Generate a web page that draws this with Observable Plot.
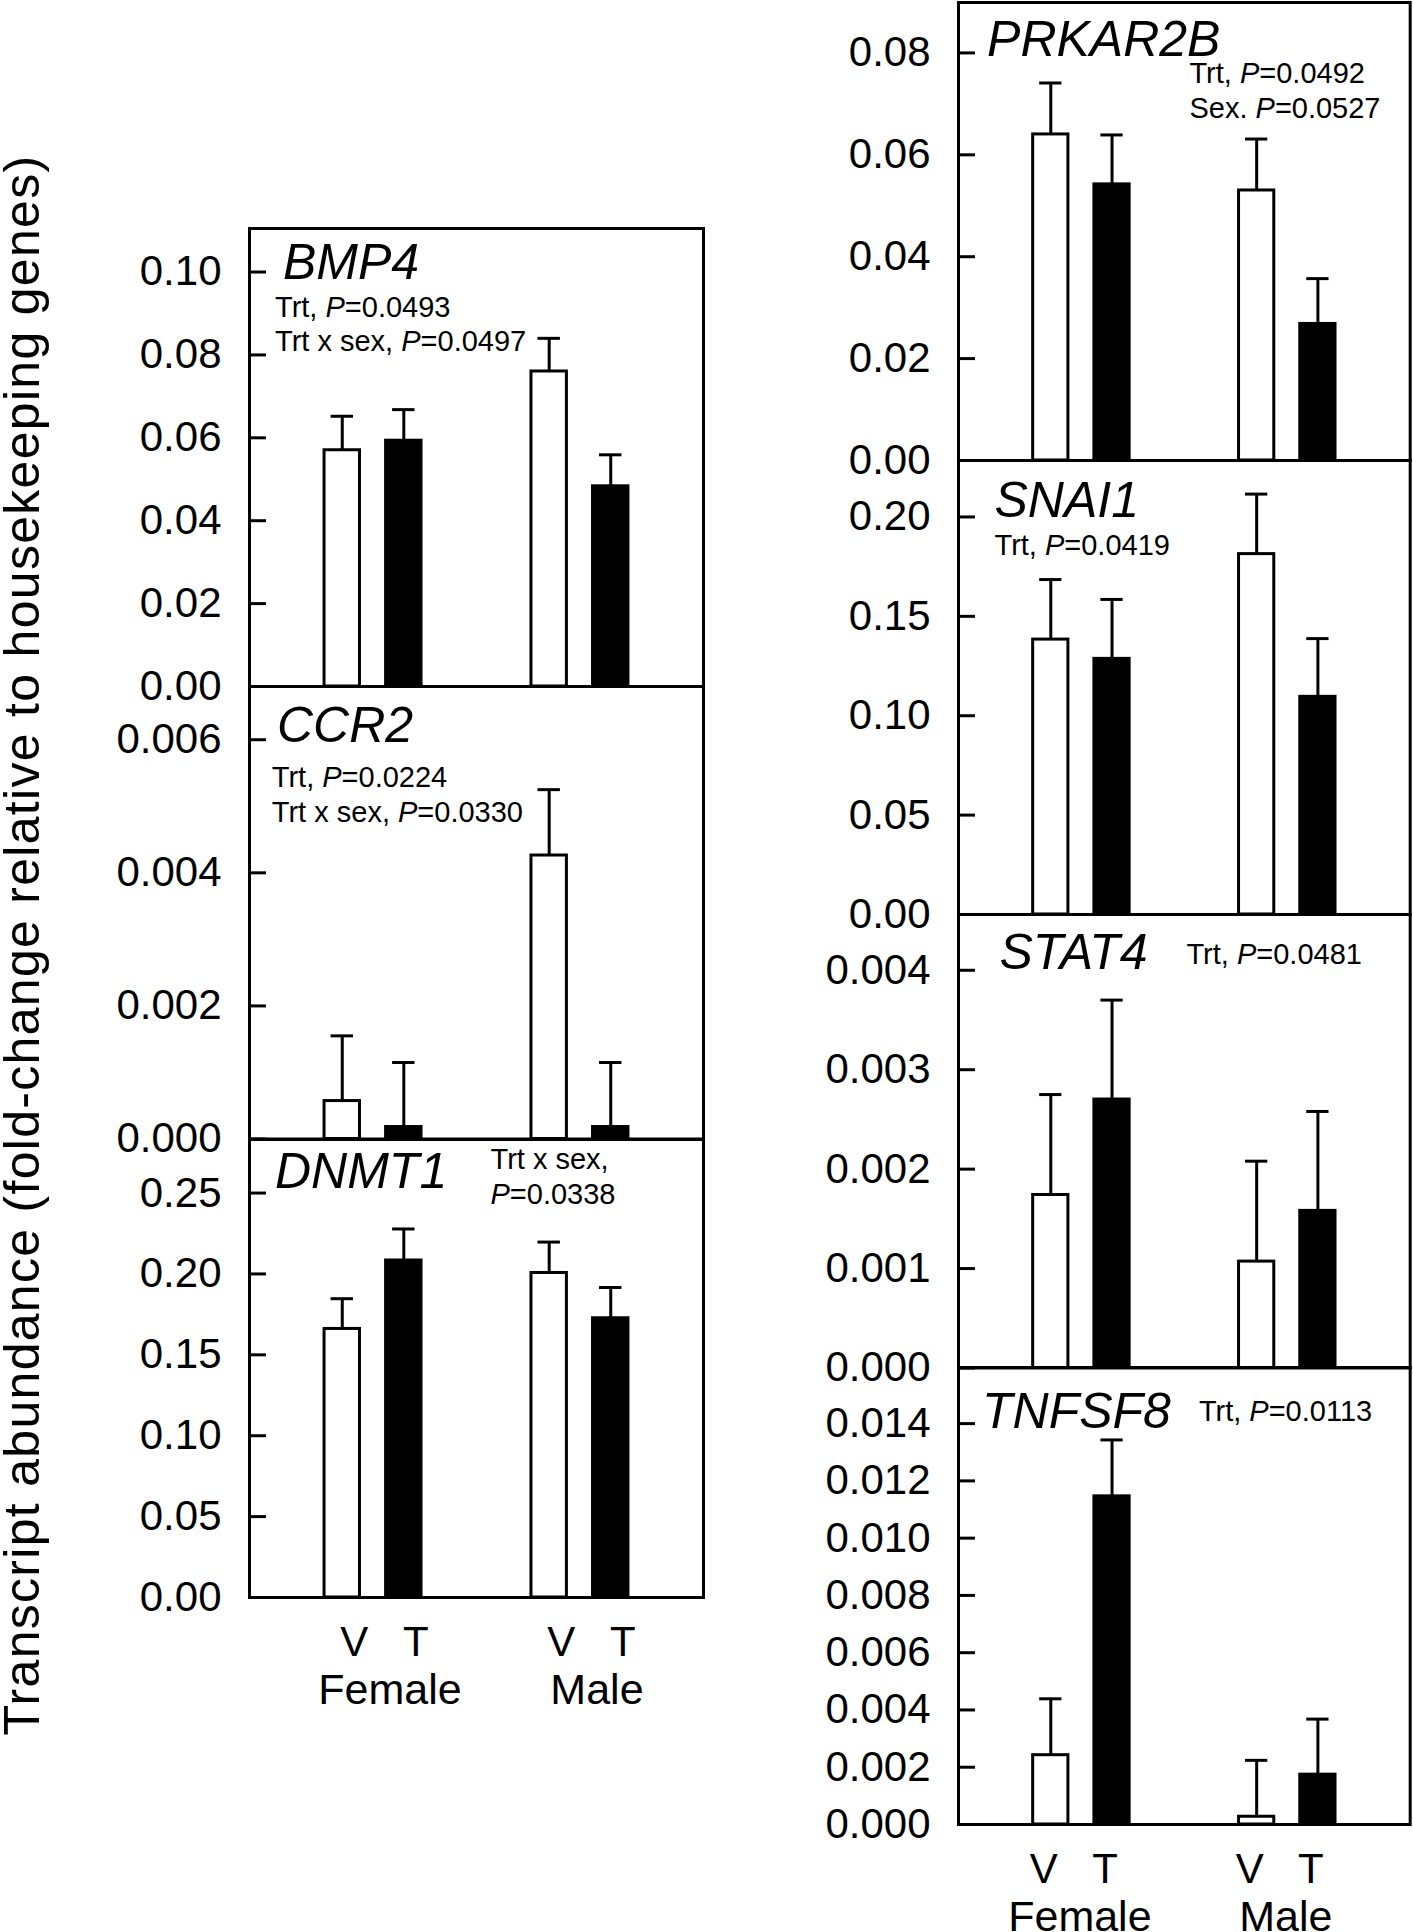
<!DOCTYPE html>
<html>
<head>
<meta charset="utf-8">
<script src="https://cdn.jsdelivr.net/npm/d3@7"></script>
<script src="https://cdn.jsdelivr.net/npm/@observablehq/plot@0.6"></script>
<style>
  html, body { margin: 0; padding: 0; background: #fff; overflow: hidden; }
  #root { position: relative; width: 1413px; height: 1932px; overflow: hidden; font-family: 'Liberation Sans', Arial, Helvetica, sans-serif; }
  .panel { position: absolute; }
  .panel svg { overflow: visible; max-width: none !important; display: block; }
</style>
</head>
<body>
<div id="root"></div>
<script>
// ---------------- DATA ----------------
const sexes = ["Female", "Male"];
const treatments = ["V", "T"];
// value order in every series: Female V, Female T, Male V, Male T
const bmp4Mean = [0.0570, 0.0593, 0.0760, 0.0483];
const bmp4SE = [0.0082, 0.0075, 0.0080, 0.0076];
const bmp4Ticks = [0, 0.02, 0.04, 0.06, 0.08, 0.10];
const bmp4Stats = ["Trt, P=0.0493", "Trt x sex, P=0.0497"];

const ccr2Mean = [0.00057, 0.00018, 0.00426, 0.00018];
const ccr2SE = [0.00098, 0.00097, 0.00099, 0.00097];
const ccr2Ticks = [0, 0.002, 0.004, 0.006];
const ccr2Stats = ["Trt, P=0.0224", "Trt x sex, P=0.0330"];

const dnmt1Mean = [0.166, 0.2083, 0.2006, 0.1726];
const dnmt1SE = [0.0187, 0.0195, 0.0191, 0.0190];
const dnmt1Ticks = [0, 0.05, 0.10, 0.15, 0.20, 0.25];
const dnmt1Stats = ["Trt x sex,", "P=0.0338"];

const prkar2bMean = [0.0640, 0.0542, 0.0530, 0.0268];
const prkar2bSE = [0.0101, 0.0097, 0.0101, 0.0089];
const prkar2bTicks = [0, 0.02, 0.04, 0.06, 0.08];
const prkar2bStats = ["Trt, P=0.0492", "Sex. P=0.0527"];

const snai1Mean = [0.1383, 0.1286, 0.1813, 0.1095];
const snai1SE = [0.0302, 0.0299, 0.0302, 0.0293];
const snai1Ticks = [0, 0.05, 0.10, 0.15, 0.20];
const snai1Stats = ["Trt, P=0.0419"];

const stat4Mean = [0.00174, 0.00270, 0.00107, 0.00158];
const stat4SE = [0.00101, 0.00100, 0.00101, 0.00100];
const stat4Ticks = [0, 0.001, 0.002, 0.003, 0.004];
const stat4Stats = ["Trt, P=0.0481"];

const tnfsf8Mean = [0.00242, 0.01146, 0.00027, 0.00174];
const tnfsf8SE = [0.00197, 0.00197, 0.00197, 0.00194];
const tnfsf8Ticks = [0, 0.002, 0.004, 0.006, 0.008, 0.010, 0.012, 0.014];
const tnfsf8Stats = ["Trt, P=0.0113"];

const yTitle = "Transcript abundance (fold-change relative to housekeeping genes)";

// ---------------- LAYOUT ----------------
const FONT = "'Liberation Sans', Arial, Helvetica, sans-serif";
const LEFT = {x0: 248.5, x1: 702.5};
const RIGHT = {x0: 958.3, x1: 1410};
const FX_PI = 0.3, FX_PO = 0.247;

const panels = [
  {gene: "BMP4", mean: bmp4Mean, se: bmp4SE, ticks: bmp4Ticks, fmt: ".2f", ymax: 0.1105, stats: bmp4Stats,
   col: LEFT, y0: 228, y1: 686, g: [33.5, 50.3], s: [25.5, 88, 34]},
  {gene: "CCR2", mean: ccr2Mean, se: ccr2SE, ticks: ccr2Ticks, fmt: ".3f", ymax: 0.0068, stats: ccr2Stats,
   col: LEFT, y0: 686, y1: 1138.5, g: [27.5, 55.7], s: [22.3, 100.7, 35]},
  {gene: "DNMT1", mean: dnmt1Mean, se: dnmt1SE, ticks: dnmt1Ticks, fmt: ".2f", ymax: 0.2831, stats: dnmt1Stats,
   col: LEFT, y0: 1138.5, y1: 1596.5, g: [25.5, 48.1], s: [241, 29.5, 35], bottom: true, axDx: 12, fxDx: 17},
  {gene: "PRKAR2B", mean: prkar2bMean, se: prkar2bSE, ticks: prkar2bTicks, fmt: ".2f", ymax: 0.0899, stats: prkar2bStats,
   col: RIGHT, y0: 1.5, y1: 459.5, g: [28.6, 53.5], s: [231, 80.8, 34.4]},
  {gene: "SNAI1", mean: snai1Mean, se: snai1SE, ticks: snai1Ticks, fmt: ".2f", ymax: 0.2284, stats: snai1Stats,
   col: RIGHT, y0: 459.5, y1: 913.5, g: [36, 56.5], s: [36, 94.8, 34]},
  {gene: "STAT4", mean: stat4Mean, se: stat4SE, ticks: stat4Ticks, fmt: ".3f", ymax: 0.004561, stats: stat4Stats,
   col: RIGHT, y0: 913.5, y1: 1367, g: [41, 54.8], s: [228, 49.8, 34]},
  {gene: "TNFSF8", mean: tnfsf8Mean, se: tnfsf8SE, ticks: tnfsf8Ticks, fmt: ".3f", ymax: 0.01596, stats: tnfsf8Stats,
   col: RIGHT, y0: 1367, y1: 1824, g: [23.5, 61], s: [240.4, 53.5, 34], bottom: true, axDx: -7, fxDx: -1.5}
];

const root = document.getElementById("root");
const SVGNS = "http://www.w3.org/2000/svg";

function italicP(svg) {
  svg.querySelectorAll("text, tspan").forEach(el => {
    if (el.children.length) return;
    const s = el.textContent;
    const i = s.indexOf("P=");
    if (i < 0) return;
    el.textContent = "";
    el.appendChild(document.createTextNode(s.slice(0, i)));
    const p = document.createElementNS(SVGNS, "tspan");
    p.setAttribute("font-style", "italic");
    p.textContent = "P";
    el.appendChild(p);
    el.appendChild(document.createTextNode(s.slice(i + 1)));
  });
}

function drawPanel(p) {
  const rows = [];
  sexes.forEach((sex, i) => treatments.forEach((trt, j) => {
    rows.push({sex, trt, mean: p.mean[i * 2 + j], se: p.se[i * 2 + j]});
  }));
  const W = p.col.x1 - p.col.x0, H = p.y1 - p.y0;
  const mL = 140, mR = 12, mT = 12, mB = p.bottom ? 130 : 12;
  // facets start inside the panel; marks that belong to the whole panel are shifted back to its edges
  const fxStep = W / (sexes.length - FX_PI + 2 * FX_PO);
  const off = FX_PO * fxStep;
  const nStats = p.stats.length;
  const marks = [
    Plot.barY(rows, {fx: "sex", x: "trt", y: "mean", fill: "trt", stroke: "black", strokeWidth: 3}),
    Plot.ruleX(rows, {fx: "sex", x: "trt", y1: "mean", y2: d => d.mean + d.se, strokeWidth: 3}),
    Plot.tickY(rows, {fx: "sex", x: "trt", y: d => d.mean + d.se, strokeWidth: 3, insetLeft: 6.5, insetRight: 6.5}),
    Plot.frame({facet: "super", strokeWidth: 3, insetLeft: -off, insetRight: -off}),
    Plot.axisY({ticks: p.ticks, tickFormat: d3.format(p.fmt), tickSize: -17, tickPadding: 45,
      fontSize: 42, strokeWidth: 3, label: null, dx: -off}),
    Plot.text([p.gene], {facet: "super", frameAnchor: "top-left", textAnchor: "start", lineAnchor: "bottom",
      dx: p.g[0] - off, dy: p.g[1], fontSize: 50, fontStyle: "italic"}),
    Plot.text([p.stats.join("\n")], {facet: "super", frameAnchor: "top-left", textAnchor: "start", lineAnchor: "bottom",
      dx: p.s[0] - off, dy: p.s[1] + (nStats - 1) * p.s[2], fontSize: 29, lineHeight: p.s[2] / 29})
  ];
  if (p.bottom) {
    marks.push(
      Plot.axisX({tickSize: 0, tickPadding: 28.7, fontSize: 42, label: null, dx: p.axDx}),
      Plot.axisFx({anchor: "bottom", tickSize: 0, tickPadding: 75.5, fontSize: 43, label: null, dx: p.fxDx})
    );
  }
  const svgW = mL + W + mR, svgH = mT + H + mB;
  const svg = Plot.plot({
    width: svgW,
    height: svgH,
    marginLeft: mL, marginRight: mR, marginTop: mT, marginBottom: mB,
    facet: {marginTop: 0, marginRight: 0, marginBottom: 0, marginLeft: 0},
    fx: {domain: sexes, paddingInner: FX_PI, paddingOuter: FX_PO, round: false, ...(p.bottom ? {} : {axis: null})},
    x: {domain: treatments, paddingInner: 0.4244, paddingOuter: 0.389, round: false, ...(p.bottom ? {} : {axis: null})},
    y: {domain: [0, p.ymax]},
    color: {domain: treatments, range: ["white", "black"]},
    style: {fontFamily: FONT, background: "transparent", overflow: "visible", color: "black", maxWidth: "none"},
    marks
  });
  italicP(svg);
  const div = document.createElement("div");
  div.className = "panel";
  div.style.left = (p.col.x0 - mL) + "px";
  div.style.top = (p.y0 - mT) + "px";
  div.style.width = svgW + "px";
  div.style.height = svgH + "px";
  div.appendChild(svg);
  root.appendChild(div);
}

panels.forEach(drawPanel);

// y-axis title (shared)
const t = document.createElementNS(SVGNS, "svg");
t.setAttribute("width", 70);
t.setAttribute("height", 1932);
t.style.position = "absolute";
t.style.left = "0px";
t.style.top = "0px";
t.style.overflow = "visible";
const tx = document.createElementNS(SVGNS, "text");
tx.setAttribute("transform", "translate(38.5,945) rotate(-90)");
tx.setAttribute("text-anchor", "middle");
tx.setAttribute("font-size", 50);
tx.setAttribute("font-family", FONT);
tx.setAttribute("letter-spacing", "1.3");
tx.textContent = yTitle;
t.appendChild(tx);
root.appendChild(t);
</script>
</body>
</html>
